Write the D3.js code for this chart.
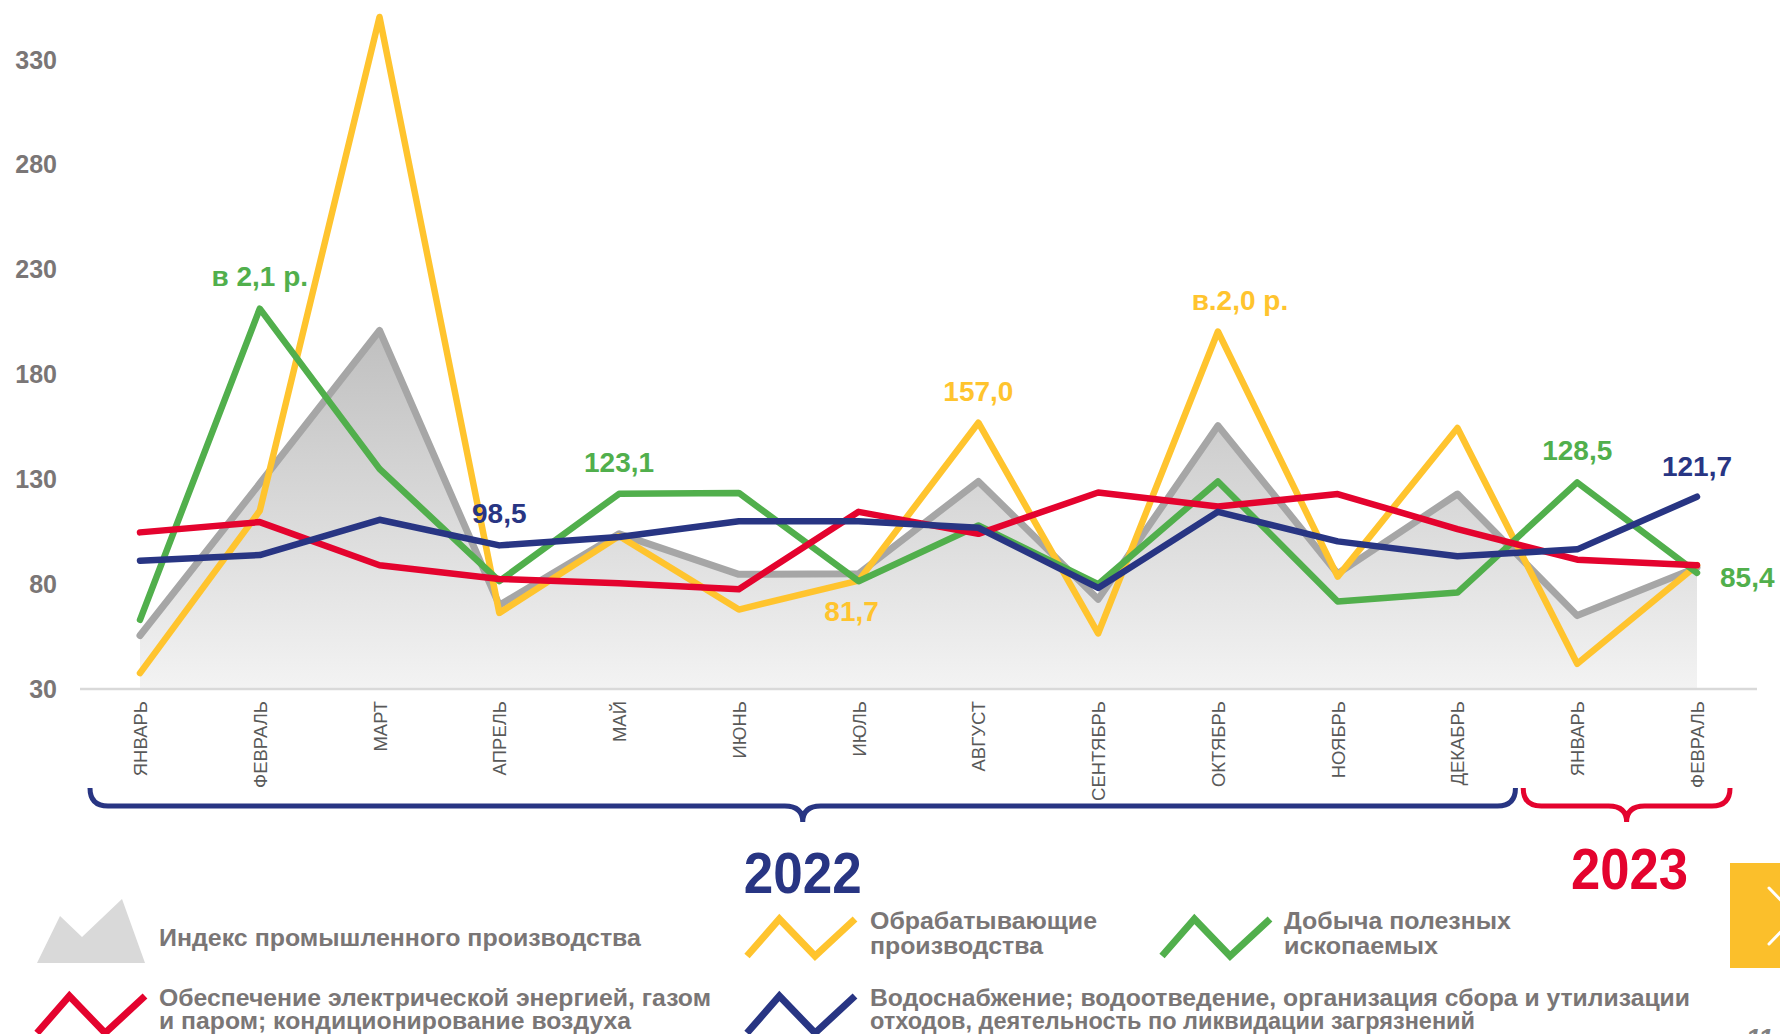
<!DOCTYPE html>
<html>
<head>
<meta charset="utf-8">
<script src="https://cdn.jsdelivr.net/npm/d3@7"></script>
<style>
  body { margin: 0; background: #fff; overflow: hidden; }
  svg { display: block; font-family: "Liberation Sans", Arial, sans-serif; }
</style>
</head>
<body>
<div id="chart"></div>
<script>
// months (2022 + начало 2023)
const months = ["ЯНВАРЬ", "ФЕВРАЛЬ", "МАРТ", "АПРЕЛЬ", "МАЙ", "ИЮНЬ", "ИЮЛЬ", "АВГУСТ",
  "СЕНТЯБРЬ", "ОКТЯБРЬ", "НОЯБРЬ", "ДЕКАБРЬ", "ЯНВАРЬ", "ФЕВРАЛЬ"];
const yTicks = [30, 80, 130, 180, 230, 280, 330];

// values
const indexProm = [55.5, 128, 201, 70, 104, 84.7, 85, 129, 72.8, 155.6, 85, 123, 65, 88];
const obrab = [37.6, 115, 350.5, 66.3, 103, 67.9, 81.7, 157.0, 56.5, 200.5, 83.6, 154.5, 42, 89];
const dobycha = [63, 211.4, 135, 81.4, 123.1, 123.5, 81.4, 108, 80, 129, 71.7, 76, 128.5, 85.4];
const energy = [104.7, 109.6, 89, 82.5, 80.4, 77.6, 114.5, 104, 123.7, 117, 123, 106.3, 91.7, 89];
const water = [91.2, 93.9, 110.7, 98.5, 102.5, 110, 110, 106.9, 78.2, 114.5, 100.4, 93.3, 96.6, 121.7];

const years = ["2022", "2023"];

const legendNames = {
  index: ["Индекс промышленного производства"],
  obrab: ["Обрабатывающие", "производства"],
  dobycha: ["Добыча полезных", "ископаемых"],
  energy: ["Обеспечение электрической энергией, газом", "и паром; кондиционирование воздуха"],
  water: ["Водоснабжение; водоотведение, организация сбора и утилизации", "отходов, деятельность по ликвидации загрязнений"]
};

const colors = {
  index: "#a6a6a6",
  obrab: "#ffc42e",
  dobycha: "#51af4c",
  energy: "#e4032e",
  water: "#283583",
  text: "#7a7676"
};

const width = 1780, height = 1034;

const svg = d3.select("#chart").append("svg")
  .attr("width", width)
  .attr("height", height);

const x = d3.scalePoint()
  .domain(d3.range(months.length))
  .range([140, 1697]);

const y = d3.scaleLinear()
  .domain([30, 330])
  .range([689, 60]);

// gradient for the area
const defs = svg.append("defs");
const grad = defs.append("linearGradient")
  .attr("id", "areaGrad")
  .attr("gradientUnits", "userSpaceOnUse")
  .attr("x1", 0).attr("x2", 0)
  .attr("y1", y(205)).attr("y2", y(30));
grad.append("stop").attr("offset", "0%").attr("stop-color", "#bebebe");
grad.append("stop").attr("offset", "100%").attr("stop-color", "#f3f3f3");

// y axis
const yAxis = svg.append("g")
  .attr("transform", "translate(59,0)")
  .call(d3.axisLeft(y).tickValues(yTicks).tickSize(0).tickPadding(2));
yAxis.select(".domain").remove();
yAxis.selectAll("text")
  .attr("font-size", 25)
  .attr("font-weight", "bold")
  .attr("fill", colors.text)
  .attr("font-family", "Liberation Sans, Arial, sans-serif");

// area of index
const area = d3.area()
  .x((d, i) => x(i))
  .y0(y(30))
  .y1(d => y(d));

svg.append("path")
  .datum(indexProm)
  .attr("d", area)
  .attr("fill", "url(#areaGrad)");

// baseline
svg.append("line")
  .attr("x1", 80).attr("x2", 1757)
  .attr("y1", y(30)).attr("y2", y(30))
  .attr("stroke", "#d9d9d9")
  .attr("stroke-width", 2.5);

// x axis (month names)
const xAxis = svg.append("g")
  .attr("transform", "translate(0," + (y(30) + 12) + ")")
  .call(d3.axisBottom(x).tickSize(0).tickFormat(i => months[i]));
xAxis.select(".domain").remove();
xAxis.selectAll("text")
  .attr("transform", "rotate(-90)")
  .attr("text-anchor", "end")
  .attr("x", 0).attr("y", 0)
  .attr("dy", "0.35em")
  .attr("font-size", 18.5)
  .attr("fill", "#595959")
  .attr("font-family", "Liberation Sans, Arial, sans-serif");

// lines
const line = d3.line()
  .x((d, i) => x(i))
  .y(d => y(d));

const series = [
  { key: "index", data: indexProm, w: 7 },
  { key: "obrab", data: obrab, w: 6.5 },
  { key: "dobycha", data: dobycha, w: 6.5 },
  { key: "energy", data: energy, w: 6.5 },
  { key: "water", data: water, w: 6.5 }
];

svg.selectAll("path.series")
  .data(series)
  .enter()
  .append("path")
  .attr("class", "series")
  .attr("d", d => line(d.data))
  .attr("fill", "none")
  .attr("stroke", d => colors[d.key])
  .attr("stroke-width", d => d.w)
  .attr("stroke-linejoin", "round")
  .attr("stroke-linecap", "round");

// data labels
const labels = [
  { key: "dobycha", i: 1, text: "в 2,1 р.", dx: 0, dy: -23 },
  { key: "water", i: 3, text: "98,5", dx: 0, dy: -22 },
  { key: "dobycha", i: 4, text: "123,1", dx: 0, dy: -22 },
  { key: "obrab", i: 6, text: "81,7", dx: -7, dy: 40 },
  { key: "obrab", i: 7, text: "157,0", dx: 0, dy: -22 },
  { key: "obrab", i: 9, text: "в.2,0 р.", dx: 22, dy: -22 },
  { key: "dobycha", i: 12, text: "128,5", dx: 0, dy: -22 },
  { key: "water", i: 13, text: "121,7", dx: 0, dy: -21 },
  { key: "dobycha", i: 13, text: "85,4", dx: 23, dy: 14, anchor: "start" }
];
const seriesData = { index: indexProm, obrab: obrab, dobycha: dobycha, energy: energy, water: water };

svg.selectAll("text.vlabel")
  .data(labels)
  .enter()
  .append("text")
  .attr("class", "vlabel")
  .attr("x", d => x(d.i) + d.dx)
  .attr("y", d => y(seriesData[d.key][d.i]) + d.dy)
  .attr("text-anchor", d => d.anchor || "middle")
  .attr("font-size", 28)
  .attr("font-weight", "bold")
  .attr("fill", d => colors[d.key])
  .text(d => d.text);

// braces under months
function brace(x0, x1, yLine, color) {
  const r = 18, mid = (x0 + x1) / 2;
  const p = d3.path();
  p.moveTo(x0, yLine - r);
  p.quadraticCurveTo(x0, yLine, x0 + r, yLine);
  p.lineTo(mid - r, yLine);
  p.quadraticCurveTo(mid, yLine, mid, yLine + 16);
  p.quadraticCurveTo(mid, yLine, mid + r, yLine);
  p.lineTo(x1 - r, yLine);
  p.quadraticCurveTo(x1, yLine, x1, yLine - r);
  svg.append("path")
    .attr("d", p.toString())
    .attr("fill", "none")
    .attr("stroke", color)
    .attr("stroke-width", 5);
  return mid;
}
const mid22 = brace(x(0) - 50, x(11) + 58, 806, colors.water);
const mid23 = brace(x(12) - 54, x(13) + 33, 806, colors.energy);

svg.append("text")
  .attr("x", mid22).attr("y", 893)
  .attr("text-anchor", "middle")
  .attr("font-size", 57).attr("font-weight", "bold")
  .attr("textLength", 118).attr("lengthAdjust", "spacingAndGlyphs")
  .attr("fill", colors.water)
  .text(years[0]);
svg.append("text")
  .attr("x", mid23 + 3).attr("y", 889)
  .attr("text-anchor", "middle")
  .attr("font-size", 57).attr("font-weight", "bold")
  .attr("textLength", 117).attr("lengthAdjust", "spacingAndGlyphs")
  .attr("fill", colors.energy)
  .text(years[1]);

// legend
const legend = svg.append("g");

legend.append("polygon")
  .attr("points", "37,963 60,916 82,937 122,899 145,963")
  .attr("fill", "#d9d9d9");

function zigzag(x0, yTop, key) {
  const w = 108, h = 37;
  const pts = [[x0, yTop + h], [x0 + w * 0.3, yTop], [x0 + w * 0.63, yTop + h], [x0 + w, yTop]];
  legend.append("path")
    .attr("d", d3.line()(pts))
    .attr("fill", "none")
    .attr("stroke", colors[key])
    .attr("stroke-width", 7);
}
zigzag(747, 919, "obrab");
zigzag(1162, 919, "dobycha");
zigzag(37, 996, "energy");
zigzag(747, 996, "water");

const legendText = [
  { key: "index", x: 159, y: [946], len: [482] },
  { key: "obrab", x: 870, y: [929, 954], len: [227, 173] },
  { key: "dobycha", x: 1284, y: [929, 954], len: [227, 154] },
  { key: "energy", x: 159, y: [1006, 1029], len: [552, 472] },
  { key: "water", x: 870, y: [1006, 1029], len: [820, 605] }
];
legendText.forEach(d => {
  legendNames[d.key].forEach((t, j) => {
    legend.append("text")
      .attr("x", d.x).attr("y", d.y[j])
      .attr("font-size", 23).attr("font-weight", "bold")
      .attr("fill", colors.text)
      .attr("textLength", d.len[j]).attr("lengthAdjust", "spacingAndGlyphs")
      .text(t);
  });
});

// yellow nav box at right edge
svg.append("rect")
  .attr("x", 1730).attr("y", 863)
  .attr("width", 50).attr("height", 105)
  .attr("fill", "#fbbf2b");
svg.append("path")
  .attr("d", "M1769,888 L1796,916 L1769,944")
  .attr("fill", "none")
  .attr("stroke", "#fff")
  .attr("stroke-width", 3)
  .attr("stroke-linecap", "round");

svg.append("text")
  .attr("x", 1746).attr("y", 1047)
  .attr("font-size", 26).attr("font-weight", "bold")
  .attr("font-style", "italic")
  .attr("fill", "#808080")
  .text("11");
</script>
</body>
</html>
